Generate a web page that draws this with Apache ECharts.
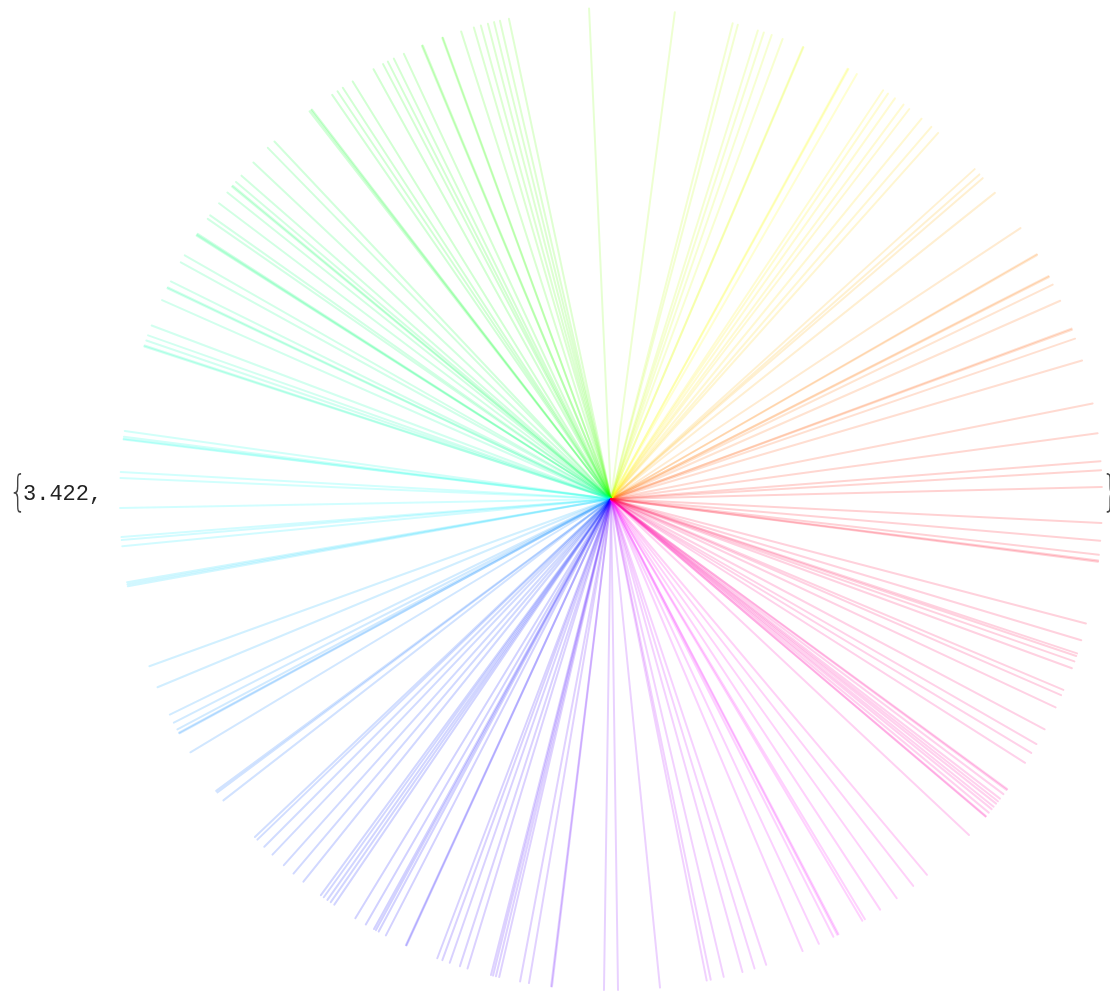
<!DOCTYPE html>
<html>
<head>
<meta charset="utf-8">
<script src="https://cdn.jsdelivr.net/npm/echarts@6/dist/echarts.min.js"></script>
<style>
  html, body { margin: 0; padding: 0; background: #fff; }
  #chart { width: 1110px; height: 992px; }
</style>
</head>
<body>
<div id="chart"></div>
<script>
// ray directions in degrees, counter-clockwise from east
const angles = [
  1.39, 3.37, 4.42, 7.69, 11.22, 16.38, 19.06, 20.16, 20.3, 23.81, 25.89, 26.88, 27.0,
  29.79, 29.9, 33.49, 38.57, 40.80, 41.38, 42.21, 48.21, 49.27, 50.76, 52.59, 53.43,
  54.67, 55.66, 56.34, 59.95, 61.09, 61.2, 66.92, 67.0,
  69.54, 70.90, 71.86, 72.60, 75.03, 75.65, 82.53, 92.56, 102.0, 103.07, 103.78, 104.52,
  105.37, 106.22, 107.77, 110.02, 110.1, 112.54, 112.65, 114.95, 116.25, 117.03, 117.66,
  118.92, 121.74, 123.11, 123.85, 124.60, 127.52, 127.65, 127.87, 133.27, 134.34,
  136.74, 138.81, 139.79, 140.37, 140.5, 141.38, 142.97, 144.72, 145.21, 147.32, 147.45,
  147.57, 150.24, 151.18, 153.70, 154.48, 154.6, 156.11, 159.31, 160.53, 161.16, 161.79, 161.9,
  172.04, 172.73, 172.95, 173.05, 176.85, 177.55, 181.05, 184.45, 184.80, 185.51, 189.75,
  190.0, 190.23,
  199.91, 202.54, 206.04, 207.09, 207.98, 208.40, 208.5, 211.06, 216.47, 216.71, 217.87,
  223.51, 223.93, 225.08, 226.41, 228.22, 229.71, 231.21, 233.78, 234.2, 234.72, 235.2,
  235.70, 238.62, 240.04, 241.14, 241.4, 241.76, 242.71, 245.31, 245.4, 249.28, 249.91,
  250.83, 252.08, 253.01, 255.85, 256.1, 256.45, 256.84, 259.33, 260.38, 262.99, 263.1,
  269.18, 270.82, 275.73, 281.24, 281.72, 283.27, 285.53, 287.0, 288.43, 292.97, 295.05,
  296.93, 297.45, 297.6, 300.79, 301.14, 303.24, 305.59, 307.99, 310.06, 316.81, 319.70,
  319.77, 320.3, 320.83, 321.2, 321.65, 322.0, 322.39, 323.06, 323.67, 323.8, 327.50,
  328.86, 330.06,
  332.03, 334.89, 336.45, 337.12, 339.84, 340.69, 341.35, 341.67, 343.29, 345.31, 352.66,
  352.8, 353.47, 355.12, 357.21
];
// every ray has unit length
const rayLength = 1;
const timingText = "3.422,";

const rays = angles.map(a => [rayLength, a]);

let chart = echarts.init(document.getElementById("chart"));
chart.setOption({
  animation: false,
  backgroundColor: "#fff",
  polar: {
    center: [611, 499],
    radius: 491
  },
  angleAxis: {
    type: "value",
    min: 0,
    max: 360,
    startAngle: 0,
    clockwise: false,
    axisLine: { show: false },
    axisTick: { show: false },
    axisLabel: { show: false },
    splitLine: { show: false }
  },
  radiusAxis: {
    type: "value",
    min: 0,
    max: 1,
    axisLine: { show: false },
    axisTick: { show: false },
    axisLabel: { show: false },
    splitLine: { show: false }
  },
  series: [
    {
      type: "custom",
      coordinateSystem: "polar",
      data: rays,
      renderItem: function (params, api) {
        const a = api.value(1);
        const p0 = api.coord([0, a]);
        const p1 = api.coord([api.value(0), a]);
        return {
          type: "line",
          shape: { x1: p0[0], y1: p0[1], x2: p1[0], y2: p1[1] },
          style: {
            stroke: "hsla(" + a + ",100%,50%,0.18)",
            lineWidth: 2,
            lineCap: "round"
          }
        };
      }
    }
  ],
  graphic: [
    {
      type: "text",
      x: 9,
      y: 495,
      scaleY: 1.55,
      style: {
        text: "{",
        font: "300 28px 'DejaVu Sans'",
        fill: "#444",
        verticalAlign: "middle"
      }
    },
    {
      type: "text",
      x: 23,
      y: 494,
      style: {
        text: timingText,
        font: "22px 'Liberation Mono'",
        fill: "#222",
        verticalAlign: "middle"
      }
    },
    {
      type: "text",
      x: 1102,
      y: 495,
      scaleY: 1.55,
      style: {
        text: "}",
        font: "300 28px 'DejaVu Sans'",
        fill: "#444",
        verticalAlign: "middle"
      }
    }
  ]
});
</script>
</body>
</html>
